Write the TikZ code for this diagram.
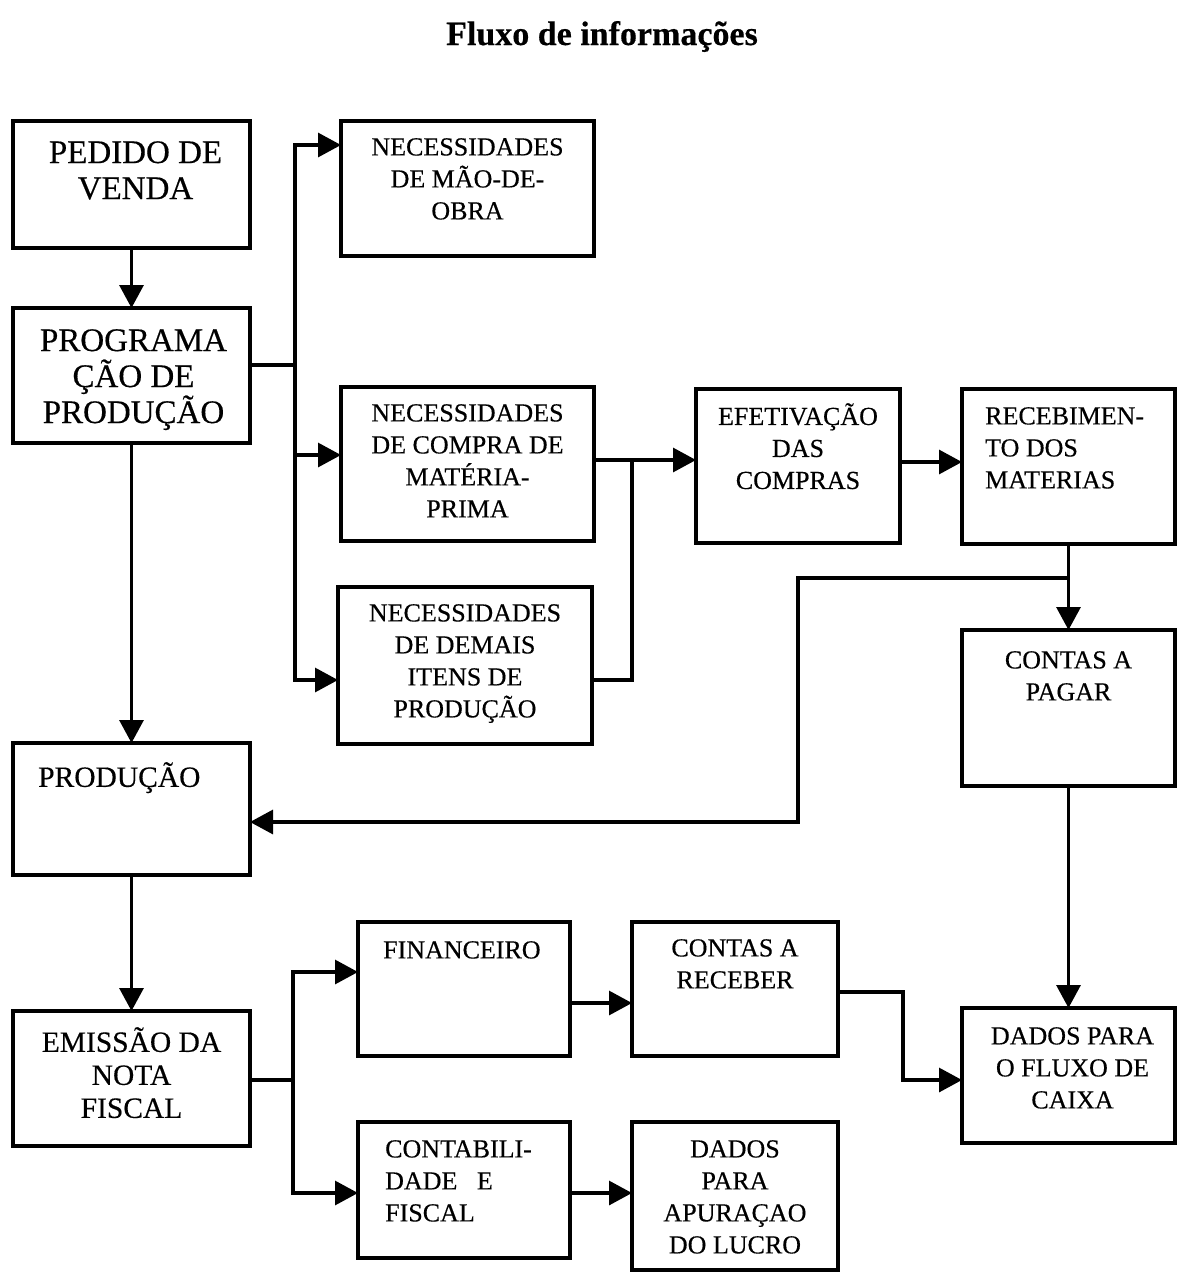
\documentclass[tikz,border=0pt]{standalone}
\usepackage{fontspec}
\setmainfont{Liberation Serif}[FakeBold=0.4]
\usetikzlibrary{arrows.meta}
\begin{document}
\begin{tikzpicture}[x=1pt,y=-1pt,
  box/.style={draw, line width=3.2pt, rectangle, inner sep=0pt, outer sep=0pt},
  con/.style={line width=3.2pt},
  arr/.style={con, -{Triangle[length=23pt,width=24pt]}},
  txt/.style={inner sep=0pt, align=center, anchor=north, font=\fontsize{26}{32}\selectfont},
  ltxt/.style={inner sep=0pt, align=left, anchor=north west, font=\fontsize{26}{32}\selectfont},
  big/.style={font=\fontsize{33}{36}\selectfont},
  mid/.style={font=\fontsize{29.5}{33}\selectfont},
]
\useasboundingbox (0,0) rectangle (1190,1272);
\node[inner sep=0pt, anchor=base, font=\bfseries\fontsize{34}{38}\selectfont] (title) at (602,45) {Fluxo de informações};

% boxes
\node[box, minimum width=237, minimum height=127] (pedido) at (131.5,184.5) {};
\node[box, minimum width=237, minimum height=135] (prog) at (131.5,375.5) {};
\node[box, minimum width=253, minimum height=135] (nec1) at (467.5,188.5) {};
\node[box, minimum width=253, minimum height=154] (nec2) at (467.5,464) {};
\node[box, minimum width=254, minimum height=157] (nec3) at (465,665.5) {};
\node[box, minimum width=204, minimum height=154] (efet) at (798,466) {};
\node[box, minimum width=213, minimum height=155] (receb) at (1068.5,466.5) {};
\node[box, minimum width=213, minimum height=156] (pagar) at (1068.5,708) {};
\node[box, minimum width=237, minimum height=132] (prod) at (131.5,809) {};
\node[box, minimum width=237, minimum height=135] (emis) at (131.5,1078.5) {};
\node[box, minimum width=212, minimum height=134] (fin) at (464,989) {};
\node[box, minimum width=206, minimum height=134] (crec) at (735,989) {};
\node[box, minimum width=213, minimum height=135] (fluxo) at (1068.5,1075.5) {};
\node[box, minimum width=212, minimum height=136] (contab) at (464,1190) {};
\node[box, minimum width=206, minimum height=148] (apur) at (735,1196) {};

% texts
\node[txt, big] (tpedido) at ([xshift=4pt,yshift=-20pt]pedido.north) {PEDIDO DE\\VENDA};
\node[txt, big] (tprog) at ([xshift=2pt,yshift=-21pt]prog.north) {PROGRAMA\\ÇÃO DE\\PRODUÇÃO};
\node[txt] (tnec1) at ([yshift=-17pt]nec1.north) {NECESSIDADES\\DE MÃO-DE-\\OBRA};
\node[txt] (tnec2) at ([yshift=-17pt]nec2.north) {NECESSIDADES\\DE COMPRA DE\\MATÉRIA-\\PRIMA};
\node[txt] (tnec3) at ([yshift=-17pt]nec3.north) {NECESSIDADES\\DE DEMAIS\\ITENS DE\\PRODUÇÃO};
\node[txt] (tefet) at ([yshift=-14pt]efet.north) {EFETIVAÇÃO\\DAS\\COMPRAS};
\node[ltxt] (treceb) at ([xshift=23pt,yshift=-18pt]receb.north west) {RECEBIMEN-\\TO DOS\\MATERIAS};
\node[txt] (tpagar) at ([yshift=-21pt]pagar.north) {CONTAS A\\PAGAR};
\node[ltxt, mid] (tprod) at ([xshift=25pt,yshift=-19pt]prod.north west) {PRODUÇÃO};
\node[txt, mid] (temis) at ([yshift=-16pt]emis.north) {EMISSÃO DA\\NOTA\\FISCAL};
\node[ltxt] (tfin) at ([xshift=25pt,yshift=-19pt]fin.north west) {FINANCEIRO};
\node[txt] (tcrec) at ([yshift=-17pt]crec.north) {CONTAS A\\RECEBER};
\node[txt] (tfluxo) at ([xshift=4pt,yshift=-19pt]fluxo.north) {DADOS PARA\\O FLUXO DE\\CAIXA};
\node[ltxt] (tcontab) at ([xshift=27pt,yshift=-18pt]contab.north west) {CONTABILI-\\DADE\ \ \ E\\FISCAL};
\node[txt] (tapur) at ([yshift=-18pt]apur.north) {DADOS\\PARA\\APURAÇAO\\DO LUCRO};

% connectors
\draw[arr] (pedido.south) -- (prog.north);
\coordinate (bA) at (295,365);
\draw[con] (prog.east|-bA) -- (bA);
\draw[arr] (bA) |- (nec1.west|-0,145);
\draw[arr] (bA) |- (nec3.west|-0,680);
\draw[arr] (bA|-0,455) -- (nec2.west|-0,455);

\coordinate (bB) at (632,460);
\draw[arr] (nec2.east|-bB) -- (efet.west|-bB);
\draw[con] (nec3.east|-0,680) -| (bB);
\draw[arr] (efet.east|-0,462) -- (receb.west|-0,462);
\draw[arr] (receb.south) -- (pagar.north);
\coordinate (bC) at (1068.5,578);
\coordinate (bD) at (798,822);
\draw[arr] (bC) -| (bD) -- (prod.east|-bD);

\draw[arr] (prog.south) -- (prod.north);
\draw[arr] (pagar.south) -- (fluxo.north);
\draw[arr] (prod.south) -- (emis.north);

\coordinate (bE) at (293,1080);
\draw[con] (emis.east|-bE) -- (bE);
\draw[arr] (bE) |- (fin.west|-0,972);
\draw[arr] (bE) |- (contab.west|-0,1193);
\draw[arr] (fin.east|-0,1003) -- (crec.west|-0,1003);
\coordinate (bF) at (903,1080);
\draw[arr] (crec.east|-0,992) -| (bF) -- (fluxo.west|-bF);
\draw[arr] (contab.east|-0,1193) -- (apur.west|-0,1193);
\end{tikzpicture}
\end{document}
